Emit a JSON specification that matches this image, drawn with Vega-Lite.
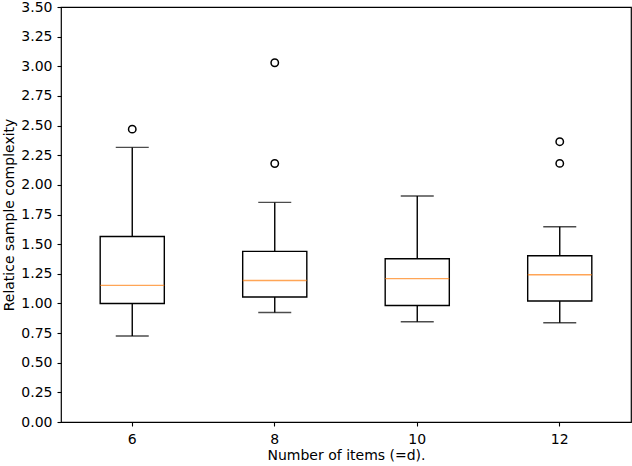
{
  "$schema": "https://vega.github.io/schema/vega-lite/v6.json",
  "autosize": {"type": "none"},
  "padding": {"left": 61, "top": 7, "right": 1, "bottom": 44},
  "width": 570,
  "height": 415,
  "background": "white",
  "config": {
    "font": "DejaVu Sans",
    "view": {"stroke": "black", "strokeWidth": 1.2},
    "axis": {
      "grid": false,
      "domain": false,
      "tickColor": "black",
      "tickSize": 4,
      "tickWidth": 1.1,
      "labelColor": "black",
      "labelFontSize": 14,
      "labelOverlap": false,
      "titleColor": "black",
      "titleFontSize": 14,
      "titleFontWeight": "normal"
    },
    "axisY": {
      "values": [0, 0.25, 0.5, 0.75, 1, 1.25, 1.5, 1.75, 2, 2.25, 2.5, 2.75, 3, 3.25, 3.5],
      "format": ".2f",
      "labelPadding": 5,
      "titlePadding": 4
    }
  },
  "datasets": {
    "boxes": [
      {"d": "6", "low": 0.725, "q1": 1.0, "median": 1.152, "q3": 1.565, "high": 2.316},
      {"d": "8", "low": 0.924, "q1": 1.054, "median": 1.194, "q3": 1.439, "high": 1.852},
      {"d": "10", "low": 0.846, "q1": 0.983, "median": 1.209, "q3": 1.377, "high": 1.906},
      {"d": "12", "low": 0.837, "q1": 1.02, "median": 1.242, "q3": 1.402, "high": 1.647}
    ],
    "outliers": [
      {"d": "6", "value": 2.47},
      {"d": "8", "value": 3.03},
      {"d": "8", "value": 2.18},
      {"d": "12", "value": 2.364},
      {"d": "12", "value": 2.181}
    ]
  },
  "encoding": {
    "x": {
      "field": "d",
      "type": "ordinal",
      "scale": {"type": "band", "domain": ["6", "8", "10", "12"], "paddingInner": 0, "paddingOuter": 0},
      "axis": {"title": "Number of items (=d).", "labelAngle": 0, "labelPadding": 6, "titlePadding": 2}
    }
  },
  "layer": [
    {
      "data": {"name": "boxes"},
      "mark": {"type": "rule", "color": "black", "strokeWidth": 1.4},
      "encoding": {
        "y": {
          "field": "low",
          "type": "quantitative",
          "scale": {"domain": [0, 3.5], "nice": false, "zero": false},
          "axis": {
            "title": "Relatice sample complexity",
            "values": [0, 0.25, 0.5, 0.75, 1, 1.25, 1.5, 1.75, 2, 2.25, 2.5, 2.75, 3, 3.25, 3.5],
            "format": ".2f",
            "labelPadding": 5,
            "titlePadding": 4
          }
        },
        "y2": {"field": "q1"}
      }
    },
    {
      "data": {"name": "boxes"},
      "mark": {"type": "rule", "color": "black", "strokeWidth": 1.4},
      "encoding": {
        "y": {"field": "q3", "type": "quantitative", "title": "Relatice sample complexity", "axis": {"title": "Relatice sample complexity", "values": [0, 0.25, 0.5, 0.75, 1, 1.25, 1.5, 1.75, 2, 2.25, 2.5, 2.75, 3, 3.25, 3.5], "format": ".2f", "labelPadding": 5, "titlePadding": 4}},
        "y2": {"field": "high"}
      }
    },
    {
      "data": {"name": "boxes"},
      "mark": {"type": "bar", "fill": "white", "stroke": "black", "strokeWidth": 1.4, "width": {"band": 0.45}},
      "encoding": {
        "y": {"field": "q1", "type": "quantitative", "axis": {"title": "Relatice sample complexity", "values": [0, 0.25, 0.5, 0.75, 1, 1.25, 1.5, 1.75, 2, 2.25, 2.5, 2.75, 3, 3.25, 3.5], "format": ".2f", "labelPadding": 5, "titlePadding": 4}},
        "y2": {"field": "q3"}
      }
    },
    {
      "data": {"name": "boxes"},
      "mark": {"type": "tick", "color": "#ff7f0e", "size": 64, "thickness": 1.4, "orient": "horizontal"},
      "encoding": {
        "y": {"field": "median", "type": "quantitative", "axis": {"title": "Relatice sample complexity", "values": [0, 0.25, 0.5, 0.75, 1, 1.25, 1.5, 1.75, 2, 2.25, 2.5, 2.75, 3, 3.25, 3.5], "format": ".2f", "labelPadding": 5, "titlePadding": 4}}
      }
    },
    {
      "data": {"name": "boxes"},
      "mark": {"type": "tick", "color": "black", "size": 33, "thickness": 1.4, "orient": "horizontal"},
      "encoding": {
        "y": {"field": "low", "type": "quantitative", "axis": {"title": "Relatice sample complexity", "values": [0, 0.25, 0.5, 0.75, 1, 1.25, 1.5, 1.75, 2, 2.25, 2.5, 2.75, 3, 3.25, 3.5], "format": ".2f", "labelPadding": 5, "titlePadding": 4}}
      }
    },
    {
      "data": {"name": "boxes"},
      "mark": {"type": "tick", "color": "black", "size": 33, "thickness": 1.4, "orient": "horizontal"},
      "encoding": {
        "y": {"field": "high", "type": "quantitative", "axis": {"title": "Relatice sample complexity", "values": [0, 0.25, 0.5, 0.75, 1, 1.25, 1.5, 1.75, 2, 2.25, 2.5, 2.75, 3, 3.25, 3.5], "format": ".2f", "labelPadding": 5, "titlePadding": 4}}
      }
    },
    {
      "data": {"name": "outliers"},
      "mark": {"type": "point", "filled": false, "stroke": "black", "strokeWidth": 1.5, "size": 55, "opacity": 1},
      "encoding": {
        "y": {"field": "value", "type": "quantitative", "axis": {"title": "Relatice sample complexity", "values": [0, 0.25, 0.5, 0.75, 1, 1.25, 1.5, 1.75, 2, 2.25, 2.5, 2.75, 3, 3.25, 3.5], "format": ".2f", "labelPadding": 5, "titlePadding": 4}}
      }
    }
  ]
}
